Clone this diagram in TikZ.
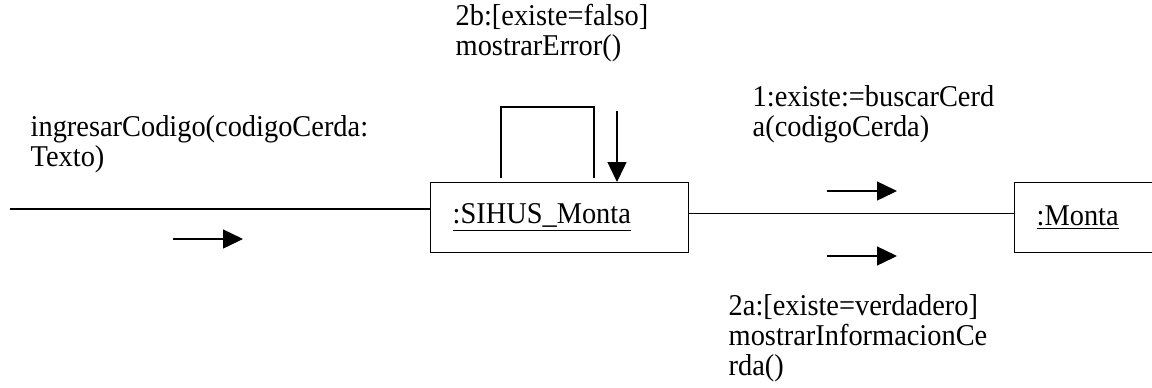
\documentclass[tikz,border=0pt]{standalone}
\usepackage{fontspec}
\setmainfont{Liberation Serif}[FakeStretch=0.94]
\usetikzlibrary{arrows.meta,positioning}

\begin{document}
\begin{tikzpicture}[x=0.5pt,y=-0.5pt,>={Triangle[length=10pt,width=9.5pt]},line width=0.7pt,
  every node/.style={font=\fontsize{15.1}{15}\selectfont},
  objbox/.style={draw,minimum height=35pt,inner xsep=11pt,text width=#1,align=left,anchor=north west},
  msg/.style={inner sep=0pt,align=left,anchor=base west}]
  \clip (0,0) rectangle (1152,387);
  % objects
  \node[objbox=107pt] (sihus) at (430,182) {\underline{:SIHUS\_Monta}};
  \node[objbox=90pt] (monta) at (1014,182) {\underline{:Monta}};
  % links
  \coordinate (entry) at (10,209);
  \draw (entry) -- (entry -| sihus.west);
  \draw ([yshift=2pt]sihus.east) -- ([yshift=2pt]monta.west);
  \draw ([xshift=35.5pt,yshift=2pt]sihus.north west) -- ++(0,-71)
    -| ([xshift=82pt,yshift=2pt]sihus.north west);
  % messages
  \draw[->] ([xshift=93.5pt,yshift=35.5pt]sihus.north west) -- ([xshift=93.5pt]sihus.north west);
  \draw[->] (173,239) -- (243,239);
  \draw[->] (827,191) -- (897,191);
  \draw[->] (827,256) -- (897,256);
  % labels (anchored at the baseline of the last line)
  \node[msg] (lblin) at (30,166) {ingresarCodigo(codigoCerda:\\Texto)};
  \node[msg] (lblself) at (455,55) {2b:[existe=falso]\\mostrarError()};
  \node[msg] (lblbuscar) at (752,136) {1:existe:=buscarCerd\\a(codigoCerda)};
  \node[msg] (lblinfo) at (728,375) {2a:[existe=verdadero]\\mostrarInformacionCe\\rda()};
\end{tikzpicture}
\end{document}
